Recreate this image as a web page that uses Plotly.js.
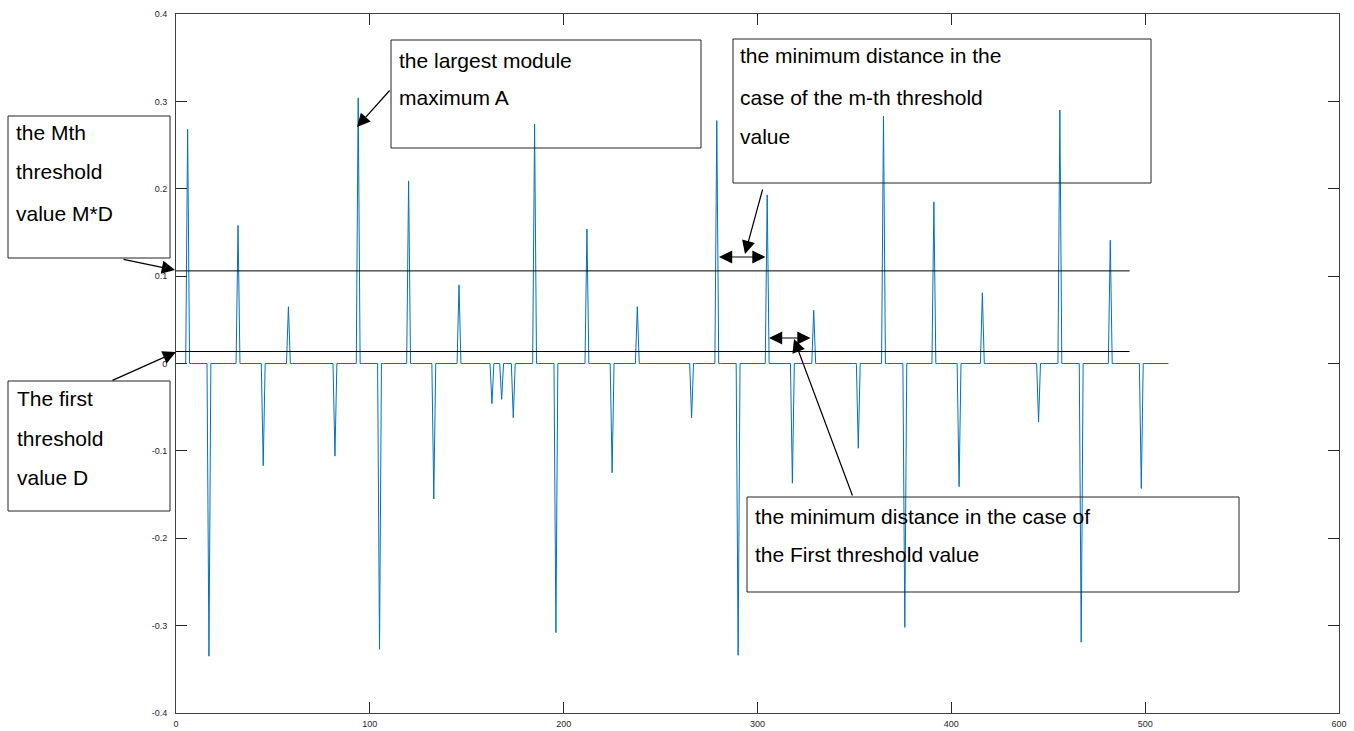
<!DOCTYPE html>
<html>
<head>
<meta charset="utf-8">
<script src="https://cdn.plot.ly/plotly-3.0.1.min.js"></script>
<style>html,body{margin:0;padding:0;background:#fff;}#chart{width:1354px;height:731px;}</style>
</head>
<body>
<div id="chart"></div>
<script>
// ---- data ----
var nSamples = 512;
var posX = [6, 32, 58, 94, 120, 146, 185, 212, 238, 279, 305, 329, 365, 391, 416, 456, 482];
var posY = [0.268, 0.158, 0.065, 0.304, 0.209, 0.090, 0.274, 0.154, 0.065, 0.278, 0.193, 0.061, 0.283, 0.185, 0.081, 0.290, 0.141];
var negX = [17, 45, 82, 105, 133, 163, 168, 174, 196, 225, 266, 290, 318, 352, 376, 404, 445, 467, 498];
var negY = [-0.335, -0.117, -0.106, -0.327, -0.155, -0.046, -0.041, -0.062, -0.308, -0.125, -0.062, -0.334, -0.137, -0.097, -0.302, -0.141, -0.067, -0.319, -0.143];
var thresholdM = 0.106;   // M*D
var thresholdD = 0.0137;  // D
var thresholdEnd = 492;
var xTicks = [0, 100, 200, 300, 400, 500, 600];
var yTicks = [-0.4, -0.3, -0.2, -0.1, 0, 0.1, 0.2, 0.3, 0.4];
var yTickText = ['-0.4', '-0.3', '-0.2', '-0.1', '0', '0.1', '0.2', '0.3', '0.4'];

// build the signal: zero everywhere except the spikes
var sx = [], sy = [];
for (var i = 1; i <= nSamples; i++) { sx.push(i); sy.push(0); }
posX.forEach(function (k, j) { sy[k - 1] = posY[j]; });
negX.forEach(function (k, j) { sy[k - 1] = negY[j]; });

// ---- layout helpers (pixel -> paper) ----
var L = 176, T = 14, W = 1163, H = 699;
function px(x) { return (x - L) / W; }
function py(y) { return (T + H - y) / H; }

var boxes = [
  {x0: 391, x1: 701, y0: 40, y1: 148, lines: [['the largest module', 397, 60], ['maximum A', 397, 98]]},
  {x0: 733, x1: 1151, y0: 39, y1: 183, lines: [['the minimum distance in the', 738, 56], ['case of the m-th threshold', 738, 97], ['value', 738, 136]]},
  {x0: 8, x1: 170, y0: 116, y1: 258, lines: [['the Mth', 14, 132], ['threshold', 14, 172], ['value M*D', 14, 213]]},
  {x0: 8, x1: 170, y0: 381, y1: 511, lines: [['The first', 15, 398], ['threshold', 15, 438], ['value D', 15, 477]]},
  {x0: 747, x1: 1239, y0: 497, y1: 592, lines: [['the minimum distance in the case of', 753, 516], ['the First threshold value', 753, 554]]}
];

var shapes = [
  {type: 'line', xref: 'x', yref: 'y', x0: 0, x1: thresholdEnd, y0: thresholdM, y1: thresholdM, line: {color: '#000', width: 1}},
  {type: 'line', xref: 'x', yref: 'y', x0: 0, x1: thresholdEnd, y0: thresholdD, y1: thresholdD, line: {color: '#000', width: 1}}
];
var annotations = [];
boxes.forEach(function (b) {
  shapes.push({type: 'rect', xref: 'paper', yref: 'paper', x0: px(b.x0), x1: px(b.x1), y0: py(b.y0), y1: py(b.y1),
    line: {color: '#222', width: 1}, fillcolor: 'rgba(0,0,0,0)', layer: 'above'});
  b.lines.forEach(function (ln) {
    annotations.push({xref: 'paper', yref: 'paper', x: px(ln[1]), y: py(ln[2]), xanchor: 'left', yanchor: 'middle',
      text: ln[0], showarrow: false, font: {family: 'Liberation Sans, Arial, sans-serif', size: 21, color: '#000'}});
  });
});

// arrows: [headX, headY, tailX, tailY, double]
var arrows = [
  [357, 127, 391, 89, false],
  [175, 270, 122, 259, false],
  [176, 352, 111, 381, false],
  [745, 254, 763, 188, false],
  [719, 257, 767, 257, true],
  [769, 338, 812, 338, true],
  [794, 339, 853, 497, false]
];
arrows.forEach(function (a) {
  annotations.push({xref: 'paper', yref: 'paper', x: px(a[0]), y: py(a[1]), ax: a[2] - a[0], ay: a[3] - a[1],
    text: '', showarrow: true, arrowhead: 2, startarrowhead: 2, arrowside: a[4] ? 'end+start' : 'end',
    arrowsize: 2.2, startarrowsize: 2.2, arrowwidth: 1.2, arrowcolor: '#000', standoff: 0, startstandoff: 0});
});

var axisCommon = {
  showgrid: false, zeroline: false, showline: true, linecolor: '#404040', linewidth: 1,
  mirror: 'ticks', ticks: 'inside', ticklen: 11, tickwidth: 1, tickcolor: '#262626',
  tickfont: {family: 'Liberation Sans, Arial, sans-serif', size: 9, color: '#262626'}
};

var trace = {x: sx, y: sy, type: 'scatter', mode: 'lines', line: {color: '#0072BD', width: 1}, hoverinfo: 'skip'};

var layout = {
  width: 1354, height: 731,
  margin: {l: L, r: 1354 - L - W, t: T, b: 731 - T - H, pad: 0},
  paper_bgcolor: '#fff', plot_bgcolor: '#fff', showlegend: false,
  xaxis: Object.assign({}, axisCommon, {range: [0, 600], tickvals: xTicks, ticktext: xTicks.map(String), ticklabelstandoff: 2}),
  yaxis: Object.assign({}, axisCommon, {range: [-0.4, 0.4], tickvals: yTicks, ticktext: yTickText, ticklabelstandoff: 6}),
  shapes: shapes, annotations: annotations
};

Plotly.newPlot('chart', [trace], layout, {displayModeBar: false, staticPlot: true});
</script>
</body>
</html>
